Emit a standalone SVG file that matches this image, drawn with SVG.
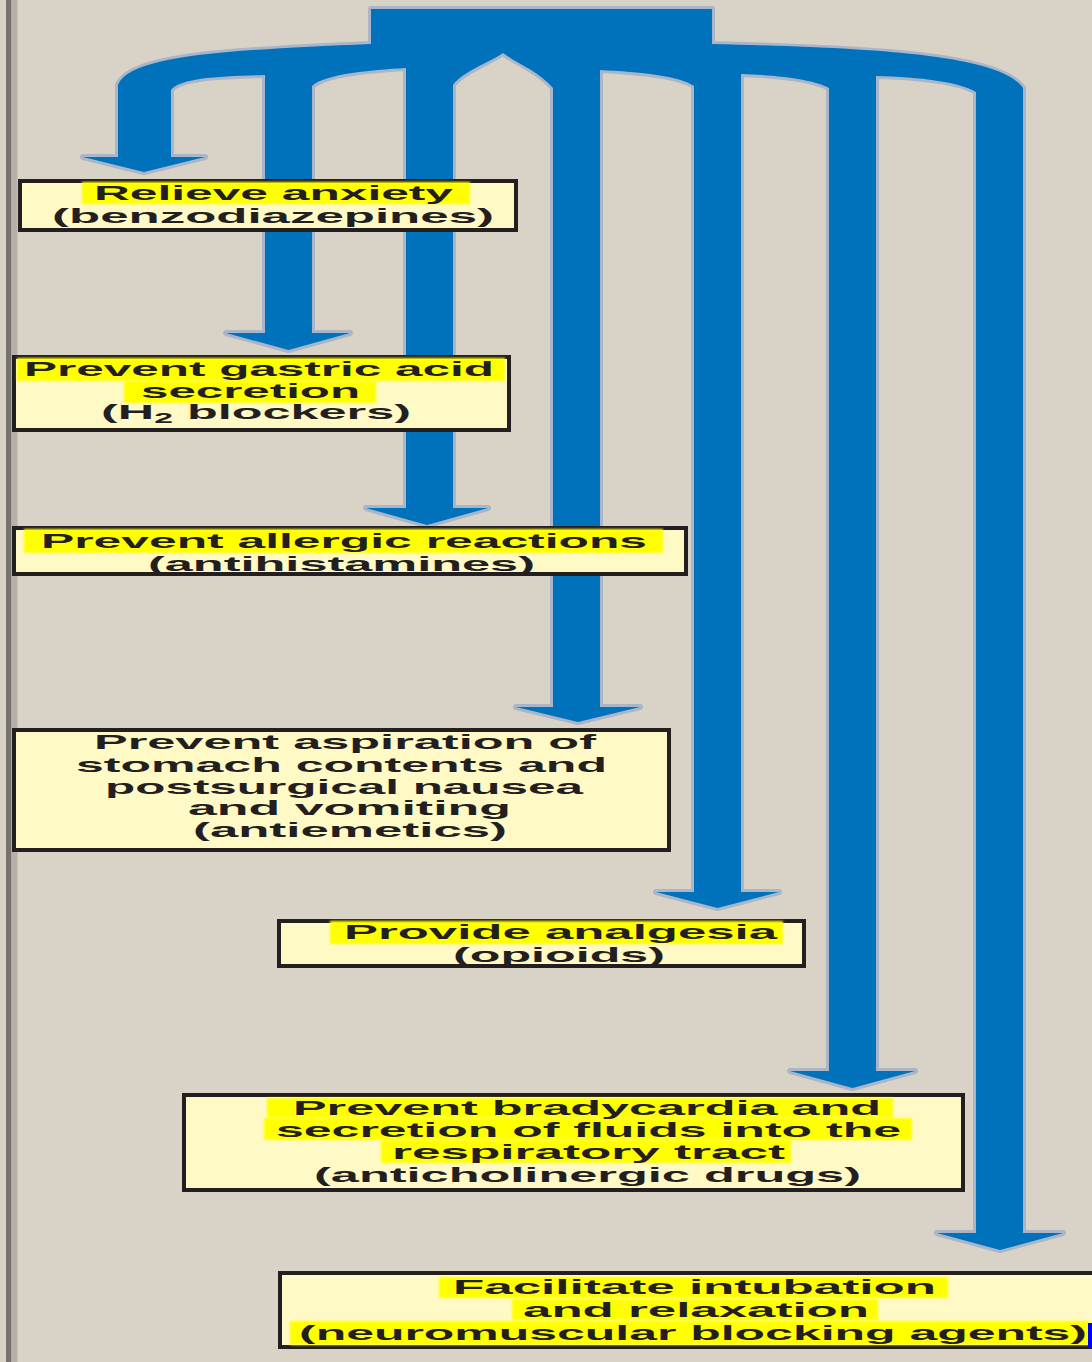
<svg xmlns="http://www.w3.org/2000/svg" width="1092" height="1362" viewBox="0 0 1092 1362">
<defs>
<filter id="soft" x="-5%" y="-30%" width="110%" height="160%"><feGaussianBlur stdDeviation="1.3"/></filter>
<style>
.bg{fill:#D9D2C6}
.flow{fill:#0071BB;stroke:#A9B5C9;stroke-width:6;paint-order:stroke;stroke-linejoin:round}
.box{fill:#FFF9C6;stroke:#231F20;stroke-width:4}
.hl{fill:#FFFF00;filter:url(#soft)}
.t{font-family:"Liberation Sans",Arial,sans-serif;font-weight:bold;font-size:21px;fill:#231F20;text-anchor:middle}
</style>
</defs>
<rect class="bg" x="0" y="0" width="1092" height="1362"/>
<rect x="6" y="0" width="5.5" height="1362" fill="#77726E"/>
<rect x="11.5" y="0" width="6" height="1362" fill="#B8B1A9"/>

<g id="connectors">
<path class="flow" d="M371,9 H712 V44 C880,48 1000,55 1023,88 V1233 H1063 L1000,1250 L937,1233 H976 V92 C960,82 920,77 876,76 V1071 H915 L852.5,1088 L790,1071 H829 V88 C815,80 780,75 741,74 V892 H779 L717.5,908 L656,892 H694 V86 C680,76 640,72 600,70 V707 H640 L578,722 L516,707 H553 V88 C540,72 515,62 503,53 C490,62 462,72 453,85 V508 H488 L427,525 L366,508 H406 V68 C370,70 325,74 312,86 V333 H350 L288.5,350 L226,333 H265 V75 C220,76 180,78 171,90 V157 H205 L144,172 L83,157 H118 V85 C130,55 230,50 371,44 Z"/>
</g>

<g id="node-anxiety">
<rect class="box" x="20" y="181" width="496" height="49"/>
<rect class="hl" x="82" y="182" width="388" height="22"/>
<text class="t" x="273.5" y="200" textLength="359" lengthAdjust="spacingAndGlyphs">Relieve anxiety</text>
<text class="t" x="273" y="223" textLength="442" lengthAdjust="spacingAndGlyphs">(benzodiazepines)</text>
</g>

<g id="node-gastric">
<rect class="box" x="14" y="357" width="495" height="73"/>
<rect class="hl" x="17" y="358" width="488" height="23"/>
<rect class="hl" x="124" y="381" width="252" height="22"/>
<text class="t" x="259" y="376" textLength="470" lengthAdjust="spacingAndGlyphs">Prevent gastric acid</text>
<text class="t" x="250.5" y="398" textLength="219" lengthAdjust="spacingAndGlyphs">secretion</text>
<text class="t" x="256" y="419" textLength="310" lengthAdjust="spacingAndGlyphs">(H<tspan font-size="14" dy="4">2</tspan><tspan dy="-4"> blockers)</tspan></text>
</g>

<g id="node-allergic">
<rect class="box" x="14" y="528" width="672" height="46"/>
<rect class="hl" x="24" y="529" width="639" height="24"/>
<text class="t" x="344" y="548" textLength="606" lengthAdjust="spacingAndGlyphs">Prevent allergic reactions</text>
<text class="t" x="341.5" y="571" textLength="387" lengthAdjust="spacingAndGlyphs">(antihistamines)</text>
</g>

<g id="node-aspiration">
<rect class="box" x="14" y="730" width="655" height="120"/>
<text class="t" x="345" y="749" textLength="502" lengthAdjust="spacingAndGlyphs">Prevent aspiration of</text>
<text class="t" x="341.5" y="772" textLength="531" lengthAdjust="spacingAndGlyphs">stomach contents and</text>
<text class="t" x="344" y="794" textLength="478" lengthAdjust="spacingAndGlyphs">postsurgical nausea</text>
<text class="t" x="349.5" y="815" textLength="323" lengthAdjust="spacingAndGlyphs">and vomiting</text>
<text class="t" x="350" y="837" textLength="314" lengthAdjust="spacingAndGlyphs">(antiemetics)</text>
</g>

<g id="node-analgesia">
<rect class="box" x="279" y="921" width="525" height="45"/>
<rect class="hl" x="330" y="921" width="453" height="23"/>
<text class="t" x="560.5" y="939" textLength="433" lengthAdjust="spacingAndGlyphs">Provide analgesia</text>
<text class="t" x="559" y="962" textLength="212" lengthAdjust="spacingAndGlyphs">(opioids)</text>
</g>

<g id="node-bradycardia">
<rect class="box" x="184" y="1095" width="779" height="95"/>
<rect class="hl" x="267" y="1098" width="626" height="20"/>
<rect class="hl" x="264" y="1118" width="648" height="22"/>
<rect class="hl" x="381" y="1140" width="410" height="23"/>
<text class="t" x="587" y="1115" textLength="588" lengthAdjust="spacingAndGlyphs">Prevent bradycardia and</text>
<text class="t" x="588.5" y="1137" textLength="625" lengthAdjust="spacingAndGlyphs">secretion of fluids into the</text>
<text class="t" x="588.5" y="1159" textLength="393" lengthAdjust="spacingAndGlyphs">respiratory tract</text>
<text class="t" x="587.5" y="1182" textLength="547" lengthAdjust="spacingAndGlyphs">(anticholinergic drugs)</text>
</g>

<g id="node-intubation">
<rect class="box" x="280" y="1273" width="820" height="74"/>
<rect class="hl" x="439" y="1277" width="509" height="21"/>
<rect class="hl" x="512" y="1299" width="366" height="21"/>
<rect class="hl" x="290" y="1321" width="800" height="24"/>
<text class="t" x="694.5" y="1294" textLength="483" lengthAdjust="spacingAndGlyphs">Facilitate intubation</text>
<text class="t" x="696" y="1317" textLength="346" lengthAdjust="spacingAndGlyphs">and relaxation</text>
<text class="t" x="693" y="1340" textLength="788" lengthAdjust="spacingAndGlyphs">(neuromuscular blocking agents)</text>
<rect x="1088" y="1323" width="4" height="24" fill="#0000FF"/>
</g>
</svg>
